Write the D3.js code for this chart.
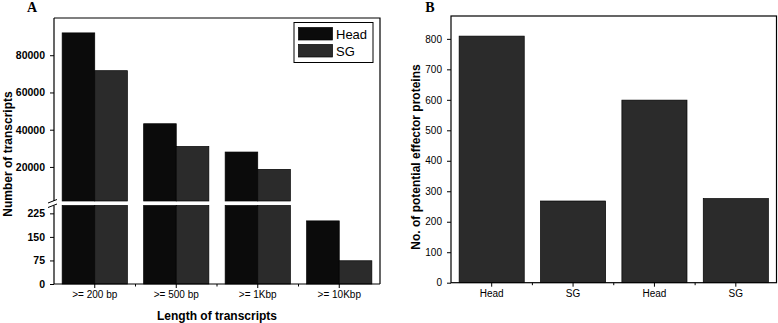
<!DOCTYPE html>
<html>
<head>
<meta charset="utf-8">
<script src="https://cdn.jsdelivr.net/npm/d3@7"></script>
<style>
  body { margin: 0; background: #fff; }
  svg text { font-family: "Liberation Sans", Arial, sans-serif; fill: #000; }
</style>
</head>
<body>
<svg id="chart" width="778" height="323"></svg>
<script>
// panel A data
const lengthCats = [">= 200 bp", ">= 500 bp", ">= 1Kbp", ">= 10Kbp"];
const seriesNames = ["Head", "SG"];
const headCounts = [92000, 43200, 28000, 201];
const sgCounts = [71700, 31000, 18700, 74];
const upperTicks = [20000, 40000, 60000, 80000];
const lowerTicks = [0, 75, 150, 225];

// panel B data
const tissueCats = ["Head", "SG", "Head ", "SG "];
const tissueLabels = ["Head", "SG", "Head", "SG"];
const effectorCounts = [809, 268, 599, 276];
const effectorTicks = [0, 100, 200, 300, 400, 500, 600, 700, 800];

const colors = { Head: "#0b0b0b", SG: "#2b2b2b" };

const svg = d3.select("#chart");
svg.append("rect").attr("width", 778).attr("height", 323).attr("fill", "#fff");

// ---------- Panel A ----------
const A = { left: 54, right: 380, top: 18, bottom: 284, breakTop: 201, breakBot: 205.5 };
const gA = svg.append("g");

const x0 = d3.scaleBand().domain(lengthCats).range([A.left, A.right])
  .paddingInner(0.2).paddingOuter(0.1);
const x1 = d3.scaleBand().domain(seriesNames).range([0, x0.bandwidth()]);
const slot = d3.scaleBand().domain(lengthCats).range([A.left, A.right]);

const yUp = d3.scaleLinear().domain([1700, 100000]).range([A.breakTop, A.top]);
const yLow = d3.scaleLinear().domain([0, 250]).range([A.bottom, A.breakBot]);

const rows = lengthCats.map((c, i) => ({ cat: c, Head: headCounts[i], SG: sgCounts[i] }));

rows.forEach(r => {
  seriesNames.forEach(s => {
    const v = r[s];
    const bx = x0(r.cat) + x1(s);
    const lowTop = v > 250 ? yLow(250) : yLow(v);
    gA.append("rect")
      .attr("x", bx).attr("y", lowTop)
      .attr("width", x1.bandwidth()).attr("height", yLow(0) - lowTop)
      .attr("fill", colors[s]).attr("stroke", "#000").attr("stroke-width", 0.7);
    if (v > 250) {
      gA.append("rect")
        .attr("x", bx).attr("y", yUp(v))
        .attr("width", x1.bandwidth()).attr("height", yUp(1700) - yUp(v))
        .attr("fill", colors[s]).attr("stroke", "#000").attr("stroke-width", 0.7);
    }
  });
});

// frame (top + right), left axis in two pieces
gA.append("path")
  .attr("d", `M${A.left},${A.top}H${A.right}V${A.bottom}`)
  .attr("fill", "none").attr("stroke", "#000").attr("stroke-width", 1.2);

function yAxisA(scale, major, minor) {
  const g = gA.append("g").attr("transform", `translate(${A.left},0)`);
  g.call(d3.axisLeft(scale).tickValues(minor).tickSize(2.5).tickFormat(""));
  g.call(d3.axisLeft(scale).tickValues(major).tickSize(4).tickPadding(5).tickFormat(d3.format("d")));
  g.selectAll(".domain").remove();
  g.selectAll("line").attr("stroke-width", 1);
  g.selectAll("text").style("font-size", "10.5px").style("font-weight", "bold");
}
yAxisA(yUp, upperTicks, [10000, 30000, 50000, 70000, 90000]);
yAxisA(yLow, lowerTicks, [37.5, 112.5, 187.5]);

gA.append("line").attr("x1", A.left).attr("x2", A.left)
  .attr("y1", A.top).attr("y2", A.breakTop).attr("stroke", "#000").attr("stroke-width", 1.2);
gA.append("line").attr("x1", A.left).attr("x2", A.left)
  .attr("y1", A.breakBot).attr("y2", A.bottom).attr("stroke", "#000").attr("stroke-width", 1.2);
// break marks
[A.breakTop, A.breakBot].forEach(yy => {
  gA.append("line").attr("x1", A.left - 6).attr("y1", yy + 2)
    .attr("x2", A.left + 3).attr("y2", yy - 1.5)
    .attr("stroke", "#000").attr("stroke-width", 1);
});

// x axis A
const xaA = gA.append("g").attr("transform", `translate(0,${A.bottom})`);
xaA.call(d3.axisBottom(x0).tickSize(4).tickPadding(3));
xaA.selectAll("text").style("font-size", "10px");
xaA.select(".domain").attr("d", `M${A.left},0H${A.right}`).attr("stroke-width", 1.2);
gA.append("g").attr("transform", `translate(0,${A.bottom})`)
  .selectAll("line").data(lengthCats.slice(1)).join("line")
  .attr("x1", d => slot(d)).attr("x2", d => slot(d))
  .attr("y1", 0).attr("y2", 2.5).attr("stroke", "#000");

gA.append("text").attr("x", (A.left + A.right) / 2).attr("y", 320)
  .attr("text-anchor", "middle").style("font-size", "12px").style("font-weight", "bold")
  .text("Length of transcripts");
gA.append("text").attr("transform", "translate(12,154) rotate(-90)")
  .attr("text-anchor", "middle").style("font-size", "12px").style("font-weight", "bold")
  .text("Number of transcripts");
gA.append("text").attr("x", 32).attr("y", 11.5).attr("text-anchor", "middle")
  .style("font-family", "'Liberation Serif', 'Times New Roman', serif")
  .style("font-size", "14px").style("font-weight", "bold").text("A");

// legend
const leg = gA.append("g");
leg.append("rect").attr("x", 294).attr("y", 22.5).attr("width", 79).attr("height", 40)
  .attr("fill", "#fff").attr("stroke", "#000").attr("stroke-width", 1);
seriesNames.forEach((s, i) => {
  leg.append("rect").attr("x", 298.5).attr("y", 27.5 + i * 17).attr("width", 34).attr("height", 12.5)
    .attr("fill", colors[s]).attr("stroke", "#000").attr("stroke-width", 0.7);
  leg.append("text").attr("x", 336).attr("y", 38.5 + i * 17)
    .style("font-size", "13px").text(s);
});

// ---------- Panel B ----------
const B = { left: 451, right: 776.5, top: 16, bottom: 282.7 };
const gB = svg.append("g");

const xB = d3.scaleBand().domain(tissueCats).range([B.left, B.right])
  .paddingInner(0.2).paddingOuter(0.1);
const slotB = d3.scaleBand().domain(tissueCats).range([B.left, B.right]);
const yB = d3.scaleLinear().domain([0, 875]).range([B.bottom, B.top]);

gB.selectAll("rect.bar").data(effectorCounts).join("rect").attr("class", "bar")
  .attr("x", (d, i) => xB(tissueCats[i])).attr("y", d => yB(d))
  .attr("width", xB.bandwidth()).attr("height", d => yB(0) - yB(d))
  .attr("fill", "#2b2b2b").attr("stroke", "#000").attr("stroke-width", 0.7);

gB.append("rect").attr("x", B.left).attr("y", B.top)
  .attr("width", B.right - B.left).attr("height", B.bottom - B.top)
  .attr("fill", "none").attr("stroke", "#000").attr("stroke-width", 1.2);

const yaB = gB.append("g").attr("transform", `translate(${B.left},0)`);
yaB.call(d3.axisLeft(yB).tickValues(d3.range(50, 851, 100)).tickSize(2.5).tickFormat(""));
yaB.call(d3.axisLeft(yB).tickValues(effectorTicks).tickSize(4).tickPadding(5));
yaB.selectAll(".domain").remove();
yaB.selectAll("text").style("font-size", "10px");

const xaB = gB.append("g").attr("transform", `translate(0,${B.bottom})`);
xaB.call(d3.axisBottom(xB).tickSize(4).tickPadding(3).tickFormat((d, i) => tissueLabels[i]));
xaB.select(".domain").remove();
xaB.selectAll("text").style("font-size", "10px");
gB.append("g").attr("transform", `translate(0,${B.bottom})`)
  .selectAll("line").data(tissueCats.slice(1)).join("line")
  .attr("x1", d => slotB(d)).attr("x2", d => slotB(d))
  .attr("y1", 0).attr("y2", 2.5).attr("stroke", "#000");

gB.append("text").attr("transform", "translate(420,157) rotate(-90)")
  .attr("text-anchor", "middle").style("font-size", "12px").style("font-weight", "bold")
  .text("No. of potential effector proteins");
gB.append("text").attr("x", 430).attr("y", 11.5).attr("text-anchor", "middle")
  .style("font-family", "'Liberation Serif', 'Times New Roman', serif")
  .style("font-size", "14px").style("font-weight", "bold").text("B");
</script>
</body>
</html>
